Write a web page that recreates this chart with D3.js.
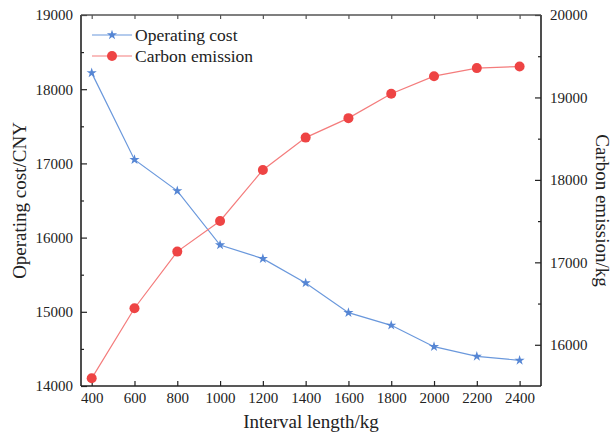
<!DOCTYPE html>
<html>
<head>
<meta charset="utf-8">
<script src="https://cdn.jsdelivr.net/npm/d3@7"></script>
<style>
  body { margin: 0; background: #fff; }
  text { font-family: "Liberation Serif", "DejaVu Serif", serif; fill: #222; }
</style>
</head>
<body>
<svg id="chart"></svg>
<script>
const intervals = [400, 600, 800, 1000, 1200, 1400, 1600, 1800, 2000, 2200, 2400];
const operatingCost = [18220, 17050, 16630, 15900, 15716, 15388, 14988, 14818, 14530, 14400, 14346];
const carbonEmission = [15593, 16443, 17130, 17502, 18121, 18513, 18749, 19044, 19258, 19356, 19375];
const leftTicks = [14000, 15000, 16000, 17000, 18000, 19000];
const rightTicks = [16000, 17000, 18000, 19000, 20000];

const width = 613;
const height = 434;
const margin = { left: 81, right: 72, top: 15, bottom: 48 };

const blue = '#6a98dc';
const blueMark = '#5686d4';
const red = '#f47c7c';
const redMark = '#ee4444';

const svg = d3.select('#chart')
  .attr('width', width)
  .attr('height', height);

const xScale = d3.scaleLinear()
  .domain([350, 2500])
  .range([margin.left, width - margin.right]);

const yLeft = d3.scaleLinear()
  .domain([14000, 19000])
  .range([height - margin.bottom, margin.top]);

const yRight = d3.scaleLinear()
  .domain([15500, 20000])
  .range([height - margin.bottom, margin.top]);

const x0 = margin.left, x1 = width - margin.right;
const y0 = height - margin.bottom, y1 = margin.top;

// axes (ticks point inward)
const styleAxis = (g) => {
  g.select('.domain').remove();
  g.selectAll('.tick line').attr('stroke', '#222').attr('stroke-width', 1.2);
  g.selectAll('.tick text').style('font-size', '15px').attr('fill', '#333');
};

// minor ticks
svg.append('g')
  .attr('transform', 'translate(' + x0 + ',0)')
  .call(d3.axisRight(yLeft).tickValues(d3.range(14500, 19000, 1000)).tickSize(3).tickFormat(''))
  .call(styleAxis);
svg.append('g')
  .attr('transform', 'translate(' + x1 + ',0)')
  .call(d3.axisLeft(yRight).tickValues(d3.range(16500, 20000, 1000)).tickSize(3).tickFormat(''))
  .call(styleAxis);

// left axis: ticks inside, labels outside
const gl = svg.append('g')
  .attr('transform', 'translate(' + x0 + ',0)')
  .call(d3.axisRight(yLeft).tickValues(leftTicks).tickSize(6).tickFormat(d3.format('d')))
  .call(styleAxis);
gl.selectAll('.tick text').attr('x', -8).attr('text-anchor', 'end');

const gr = svg.append('g')
  .attr('transform', 'translate(' + x1 + ',0)')
  .call(d3.axisLeft(yRight).tickValues(rightTicks).tickSize(6).tickFormat(d3.format('d')))
  .call(styleAxis);
gr.selectAll('.tick text').attr('x', 9).attr('text-anchor', 'start');

const gb = svg.append('g')
  .attr('transform', 'translate(0,' + y0 + ')')
  .call(d3.axisTop(xScale).tickValues(intervals).tickSize(5).tickFormat(d3.format('d')))
  .call(styleAxis);
gb.selectAll('.tick text').attr('y', 17).attr('dy', '0');

svg.append('g')
  .attr('transform', 'translate(0,' + y1 + ')')
  .call(d3.axisBottom(xScale).tickValues(intervals).tickSize(4).tickFormat(''))
  .call(styleAxis)
  .selectAll('.tick line').attr('stroke', '#555');

// frame
svg.append('line').attr('x1', x0).attr('x2', x1).attr('y1', y0).attr('y2', y0).attr('stroke', '#222').attr('stroke-width', 1.6);
svg.append('line').attr('x1', x0).attr('x2', x0).attr('y1', y1).attr('y2', y0).attr('stroke', '#222').attr('stroke-width', 1.6);
svg.append('line').attr('x1', x1).attr('x2', x1).attr('y1', y1).attr('y2', y0).attr('stroke', '#222').attr('stroke-width', 1.6);
svg.append('line').attr('x1', x0).attr('x2', x1).attr('y1', y1).attr('y2', y1).attr('stroke', '#555').attr('stroke-width', 1.4);

// lines
const costLine = d3.line().x((d, i) => xScale(intervals[i])).y((d) => yLeft(d));
const carbonLine = d3.line().x((d, i) => xScale(intervals[i])).y((d) => yRight(d));

svg.append('path')
  .datum(operatingCost)
  .attr('d', costLine)
  .attr('fill', 'none')
  .attr('stroke', blue)
  .attr('stroke-width', 1.2);

svg.append('path')
  .datum(carbonEmission)
  .attr('d', carbonLine)
  .attr('fill', 'none')
  .attr('stroke', red)
  .attr('stroke-width', 1.2);

const star = d3.symbol().type(d3.symbolStar).size(32);

svg.selectAll('.star')
  .data(operatingCost)
  .enter()
  .append('path')
  .attr('class', 'star')
  .attr('d', star)
  .attr('transform', (d, i) => 'translate(' + xScale(intervals[i]) + ',' + yLeft(d) + ')')
  .attr('fill', blueMark);

svg.selectAll('.dot')
  .data(carbonEmission)
  .enter()
  .append('circle')
  .attr('class', 'dot')
  .attr('cx', (d, i) => xScale(intervals[i]))
  .attr('cy', (d) => yRight(d))
  .attr('r', 5)
  .attr('fill', redMark);

// legend
const legend = svg.append('g').attr('transform', 'translate(92,35)');
legend.append('line').attr('x1', 0).attr('x2', 40).attr('y1', 0).attr('y2', 0).attr('stroke', blue).attr('stroke-width', 1.2);
legend.append('path').attr('d', star).attr('transform', 'translate(20,0)').attr('fill', blueMark);
legend.append('text').attr('x', 43).attr('y', 6).style('font-size', '17.5px').text('Operating cost');
legend.append('line').attr('x1', 0).attr('x2', 40).attr('y1', 21).attr('y2', 21).attr('stroke', red).attr('stroke-width', 1.2);
legend.append('circle').attr('cx', 20).attr('cy', 21).attr('r', 5).attr('fill', redMark);
legend.append('text').attr('x', 43).attr('y', 27).style('font-size', '17.5px').text('Carbon emission');

// axis titles
svg.append('text')
  .attr('x', (x0 + x1) / 2)
  .attr('y', 428)
  .attr('text-anchor', 'middle')
  .style('font-size', '19px')
  .text('Interval length/kg');

svg.append('text')
  .attr('transform', 'translate(26,' + ((y0 + y1) / 2) + ') rotate(-90)')
  .attr('text-anchor', 'middle')
  .style('font-size', '19px')
  .text('Operating cost/CNY');

svg.append('text')
  .attr('transform', 'translate(596,' + ((y0 + y1) / 2 + 10) + ') rotate(90)')
  .attr('text-anchor', 'middle')
  .style('font-size', '19px')
  .text('Carbon emission/kg');
</script>
</body>
</html>
